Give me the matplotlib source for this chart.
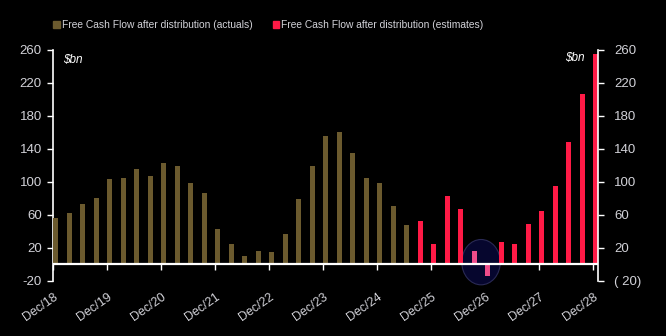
import matplotlib
matplotlib.use("Agg")
import matplotlib.pyplot as plt
from matplotlib.patches import Patch, Ellipse

# Quarterly free cash flow after distribution, $bn (Dec/18 .. Dec/28)
actuals = [56, 62, 73, 80, 103, 105, 115, 107, 123, 119, 98, 86, 43, 25,
           10, 16, 15, 37, 79, 119, 156, 161, 135, 105, 98, 71, 47]
estimates = [52, 25, 83, 67, 16, -14, 27, 25, 49, 64, 95, 148, 207, 255]
year_labels = ["Dec/18", "Dec/19", "Dec/20", "Dec/21", "Dec/22", "Dec/23",
               "Dec/24", "Dec/25", "Dec/26", "Dec/27", "Dec/28"]
y_ticks = [-20, 20, 60, 100, 140, 180, 220, 260]
left_tick_labels = ["-20", "20", "60", "100", "140", "180", "220", "260"]
right_tick_labels = ["( 20)", "20", "60", "100", "140", "180", "220", "260"]

BROWN = "#6B5A2E"
RED = "#FF1A46"
PINK = "#EE4C8A"
NAVY = "#06062E"
TXT = "#D2D2D8"
FONT = ["Liberation Sans Narrow", "Liberation Sans", "DejaVu Sans"]
plt.rcParams["font.family"] = FONT

fig = plt.figure(figsize=(6.66, 3.36), dpi=100, facecolor="black")
ax = fig.add_axes([53 / 666, 1 - 280.7 / 336, (597.7 - 53) / 666, (280.7 - 50) / 336])
ax.set_facecolor("black")

n_act = len(actuals)
x_act = list(range(n_act))
x_est = list(range(n_act, n_act + len(estimates)))
highlight = {n_act + 4, n_act + 5}

w = 0.39
ax.bar(x_act, actuals, width=w, color=BROWN, zorder=3)
est_colors = [PINK if x in highlight else RED for x in x_est]
ax.bar(x_est, estimates, width=w, color=est_colors, zorder=3)

# highlight ring around the dip
hx = sum(sorted(highlight)) / 2
ax.add_patch(Ellipse((hx, 2.5), width=2.85, height=55, facecolor=NAVY,
                     edgecolor="#2A2A55", lw=0.8, zorder=2, clip_on=False))

ax.axhline(0, color="white", lw=1.6, zorder=4)

ax.set_xlim(-0.2, n_act + len(estimates) - 1 + 0.14)
ax.set_ylim(-20, 260)

# x ticks on the zero line, one per year
tick_pos = [i * 4 - 0.2 for i in range(len(year_labels))]
ax.spines["bottom"].set_position(("data", 0))
ax.spines["bottom"].set_visible(False)
ax.set_xticks(tick_pos)
ax.set_xticklabels(year_labels, rotation=35, ha="right", rotation_mode="anchor",
                   color=TXT, fontsize=9)
ax.tick_params(axis="x", direction="out", length=4, width=1, color="white", pad=15)

ax.spines["top"].set_visible(False)
ax.spines["right"].set_visible(False)
ax.spines["left"].set_color("white")
ax.spines["left"].set_linewidth(1.2)
ax.set_yticks(y_ticks)
ax.set_yticklabels(left_tick_labels, color=TXT, fontsize=9.5)
ax.tick_params(axis="y", direction="out", length=4, width=1, color="white", pad=4)

ax2 = ax.twinx()
ax2.set_ylim(ax.get_ylim())
for s in ["top", "left", "bottom"]:
    ax2.spines[s].set_visible(False)
ax2.spines["right"].set_color("white")
ax2.spines["right"].set_linewidth(1.2)
ax2.set_yticks(y_ticks)
ax2.set_yticklabels(right_tick_labels, color=TXT, fontsize=9.5)
ax2.tick_params(axis="y", direction="out", length=4, width=1, color="white", pad=8)

ax.text(0.018, 0.955, r"\$bn", transform=ax.transAxes, color="white",
        style="italic", fontsize=8.5, ha="left", va="center")
ax.text(0.975, 0.965, r"\$bn", transform=ax.transAxes, color="white",
        style="italic", fontsize=8.5, ha="right", va="center")

handles = [Patch(color=BROWN, label="Free Cash Flow after distribution (actuals)"),
           Patch(color=RED, label="Free Cash Flow after distribution (estimates)")]
leg = fig.legend(handles=handles, loc="center left", bbox_to_anchor=(0.080, 1 - 25 / 336),
                 ncol=2, frameon=False, fontsize=7.4, handlelength=0.65, handleheight=0.65,
                 handletextpad=0.15, columnspacing=2.0, borderaxespad=0, borderpad=0)
for t in leg.get_texts():
    t.set_color(TXT)

fig.savefig("out.png", dpi=100, facecolor="black")
